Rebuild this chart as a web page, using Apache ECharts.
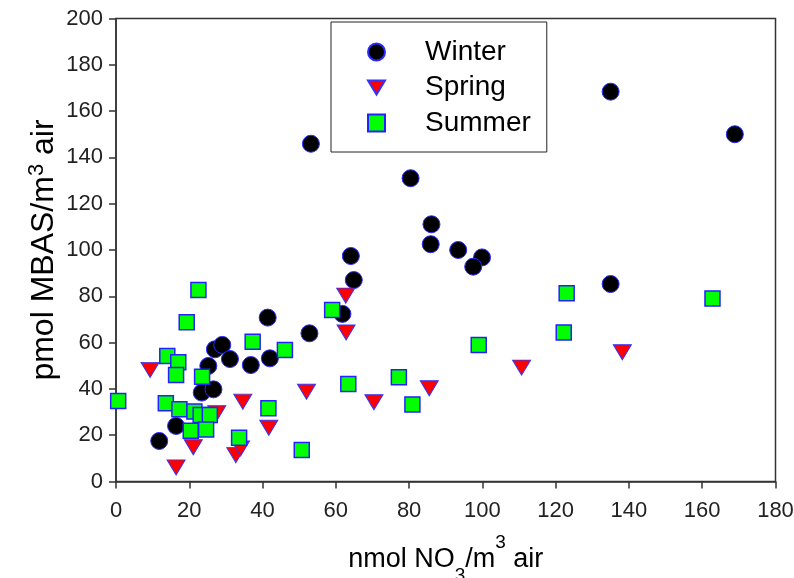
<!DOCTYPE html>
<html>
<head>
<meta charset="utf-8">
<script src="https://cdn.jsdelivr.net/npm/echarts@6/dist/echarts.min.js"></script>
<style>
  html, body { margin: 0; padding: 0; background: #fff; }
  #chart { width: 794px; height: 578px; }
</style>
</head>
<body>
<div id="chart"></div>
<script>
const xTicks = [0, 20, 40, 60, 80, 100, 120, 140, 160, 180]
const yTicks = [0, 20, 40, 60, 80, 100, 120, 140, 160, 180, 200]

// Winter
const winterX = [11.8, 16.4, 23.4, 26.6, 25.2, 27.0, 29.0, 31.1, 36.8, 41.4, 42.0, 52.8, 53.2, 61.8, 64.1, 64.9, 80.4, 86.1, 85.9, 93.4, 99.9, 97.5, 135.0, 168.9, 135.0]
const winterY = [17.5, 24.0, 38.4, 39.8, 49.9, 57.1, 59.0, 52.9, 50.3, 70.8, 53.2, 64.0, 145.9, 72.4, 97.4, 87.0, 131.0, 111.1, 102.5, 100.0, 96.8, 92.8, 168.4, 150.0, 85.3]

// Spring
const springX = [9.3, 16.4, 21.1, 27.5, 32.7, 34.0, 34.6, 41.7, 52.0, 62.7, 62.8, 70.4, 85.5, 110.7, 138.2]
const springY = [48.2, 6.1, 14.8, 29.5, 11.4, 14.3, 34.5, 23.2, 38.8, 80.3, 64.4, 34.2, 40.3, 49.2, 55.8]

// Summer
const summerX = [0.6, 22.5, 19.3, 14.0, 17.0, 16.4, 23.5, 13.6, 17.3, 21.4, 23.1, 25.6, 20.4, 24.6, 33.6, 37.3, 46.1, 41.6, 50.7, 59.0, 63.4, 77.2, 80.9, 99.0, 122.2, 123.0, 162.8]
const summerY = [34.8, 82.7, 68.8, 54.2, 51.5, 46.0, 45.3, 33.8, 31.2, 30.2, 28.7, 28.7, 21.9, 22.5, 18.9, 60.4, 56.8, 31.6, 13.6, 74.1, 42.1, 45.0, 33.3, 59.0, 64.4, 81.3, 79.1]

const font = '"Liberation Sans", Arial, sans-serif'

function pairs(xs, ys) {
  return xs.map((x, i) => [x, ys[i]])
}

const chart = echarts.init(document.getElementById('chart'))

chart.setOption({
  animation: false,
  textStyle: { fontFamily: font },
  grid: {
    left: 116,
    right: 18.5,
    top: 18.5,
    bottom: 96.5,
    outerBoundsMode: 'none',
    containLabel: false,
    show: true,
    borderColor: '#333',
    borderWidth: 1.5
  },
  legend: {
    orient: 'vertical',
    left: 331,
    top: 22,
    padding: [16, 16, 15, 36],
    itemWidth: 17,
    itemHeight: 17,
    itemGap: 7.5,
    symbolKeepAspect: true,
    borderColor: '#222',
    borderWidth: 1,
    textStyle: { fontSize: 28, lineHeight: 28, color: '#000', fontFamily: font, padding: [0, 0, 0, 35] },
    data: [
      { name: 'Winter' },
      // downward triangle for the legend icon, as in the plot
      { name: 'Spring', icon: 'path://M0,0L18,0L9,15Z' },
      { name: 'Summer' }
    ]
  },
  xAxis: {
    type: 'value',
    min: xTicks[0],
    max: xTicks[xTicks.length - 1],
    interval: 20,
    name: 'nmol NO{sub|3}/m{sup|3} air',
    nameLocation: 'middle',
    nameGap: 52,
    nameMoveOverlap: false,
    nameTextStyle: {
      fontSize: 27,
      lineHeight: 52,
      color: '#000',
      fontFamily: font,
      rich: {
        sub: { fontSize: 19, lineHeight: 16, verticalAlign: 'bottom', color: '#000', fontFamily: font },
        sup: { fontSize: 19, lineHeight: 48, verticalAlign: 'top', color: '#000', fontFamily: font }
      }
    },
    axisLine: { onZero: false, lineStyle: { color: '#333', width: 1.5 } },
    axisTick: { length: 7, lineStyle: { color: '#333', width: 1.5 } },
    axisLabel: { fontSize: 22, margin: 18, color: '#222', fontFamily: font },
    splitLine: { show: false }
  },
  yAxis: {
    type: 'value',
    min: yTicks[0],
    max: yTicks[yTicks.length - 1],
    interval: 20,
    name: 'pmol MBAS/m{sup|3} air',
    nameLocation: 'middle',
    nameRotate: 90,
    nameGap: 54,
    nameMoveOverlap: false,
    nameTextStyle: {
      fontSize: 32,
      lineHeight: 36,
      color: '#000',
      fontFamily: font,
      rich: {
        sup: { fontSize: 22, lineHeight: 24, verticalAlign: 'top', color: '#000', fontFamily: font }
      }
    },
    axisLine: { onZero: false, lineStyle: { color: '#333', width: 1.5 } },
    axisTick: { length: 7, lineStyle: { color: '#333', width: 1.5 } },
    axisLabel: { fontSize: 22, margin: 13, color: '#222', fontFamily: font },
    splitLine: { show: false }
  },
  series: [
    {
      name: 'Winter',
      type: 'scatter',
      symbol: 'circle',
      symbolSize: 17,
      itemStyle: { color: '#000', borderColor: '#2a2aff', borderWidth: 1, opacity: 1 },
      data: pairs(winterX, winterY)
    },
    {
      name: 'Spring',
      type: 'scatter',
      symbol: 'triangle',
      symbolRotate: 180,
      symbolSize: [18, 15],
      itemStyle: { color: '#ff0000', borderColor: '#3333ff', borderWidth: 1, opacity: 1 },
      data: pairs(springX, springY)
    },
    {
      name: 'Summer',
      type: 'scatter',
      symbol: 'rect',
      symbolSize: 15,
      itemStyle: { color: '#00ff00', borderColor: '#2222ff', borderWidth: 1.5, opacity: 1 },
      data: pairs(summerX, summerY)
    }
  ]
})
</script>
</body>
</html>
